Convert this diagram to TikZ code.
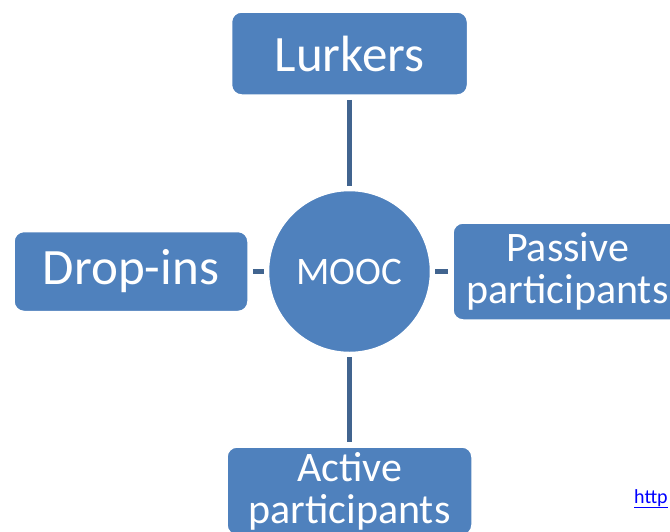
\documentclass[tikz,border=0pt]{standalone}
\usepackage{fontspec}
\setmainfont{Carlito}
\usepackage{xcolor}
\usepackage{tikz}
\usetikzlibrary{calc,positioning,shapes.geometric}
\definecolor{boxc}{HTML}{4F81BD}
\definecolor{linkc}{HTML}{41648F}
\definecolor{urlc}{HTML}{0000FF}
\tikzset{
  box/.style={draw=white,line width=1.5pt,fill=boxc,rounded corners=10pt,text=white,align=center,inner sep=0pt},
  big/.style={font=\fontsize{51}{56}\selectfont},
  two/.style={font=\fontsize{42}{42}\selectfont},
  link/.style={line width=5pt,linkc,shorten <=4pt,shorten >=4pt}
}

\begin{document}
\begin{tikzpicture}[x=1pt,y=-1pt]
\useasboundingbox (0,0) rectangle (670,531);
\clip (0,0) rectangle (670,531);
\node[box,big,minimum width=236pt,minimum height=83pt] (lurk) at (349.5,53.5) {Lurkers};
\node[box,big,minimum width=234pt,minimum height=80pt] (drop) at (131,271.5) {Drop-ins};
\node[box,two,minimum width=229pt,minimum height=97pt] (pass) at (567.5,271.5) {Passive\\participants};
\node[box,two,minimum width=245pt,minimum height=88pt] (act) at (349.5,491) {Active\\participants};
\node[circle,draw=white,line width=1.5pt,fill=boxc,text=white,minimum size=162pt,font=\fontsize{39}{44}\selectfont] (mooc) at (349.5,271.5) {MOOC};
\draw[link] (lurk) -- (mooc);
\draw[link] (drop) -- (mooc);
\draw[link] (mooc) -- (pass);
\draw[link] (mooc) -- (act);
\node[anchor=base west,text=urlc,font=\fontsize{20}{24}\selectfont,inner sep=0pt] (url) at (634,503) {\underline{http}};
\end{tikzpicture}
\end{document}
